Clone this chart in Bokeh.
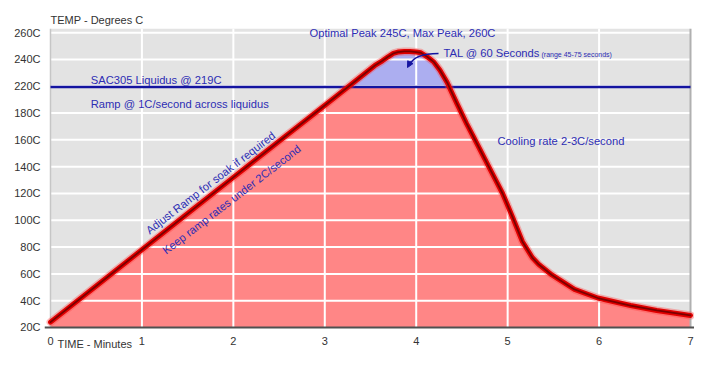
import numpy as np
from bokeh.plotting import figure
from bokeh.models import FixedTicker, Label, Arrow, NormalHead, ColumnDataSource
from bokeh.embed import file_html
from bokeh.resources import INLINE
from bokeh.core.properties import value

# ---------------- data ----------------
time_min = [0.0, 0.5, 1.0, 1.5, 2.0, 2.5, 2.95, 3.25, 3.548, 3.63, 3.692, 3.75, 3.80,
            3.87, 3.93, 4.0, 4.051, 4.12, 4.194, 4.26, 4.337, 4.444, 4.552, 4.624,
            4.803, 4.946, 5.054, 5.161, 5.269, 5.341, 5.484, 5.731, 5.986, 6.344,
            6.631, 7.0]
temp_c = [24, 51, 78, 105, 132, 159, 186, 218.6, 235.5, 239, 242, 244.5, 245.5,
          246, 246, 245.5, 245, 242, 238, 232, 223, 194.4, 172, 162.5,
          138.7, 119.8, 102.3, 84.2, 72.2, 67, 59.2, 48.4, 42, 36.4,
          32.7, 29]
liquidus_c = 219
x_ticks = [0, 1, 2, 3, 4, 5, 6, 7]
y_tick_temps = [20, 40, 60, 80, 100, 120, 140, 160, 180, 220, 240, 260]
y_tick_labels = ["20C", "40C", "60C", "80C", "100C", "120C", "140C", "160C",
                 "180C", "220C", "240C", "260C"]

# The reference axis puts 180C and 220C one grid step apart (no 200C tick)
def ty(t):
    return np.interp(np.asarray(t, dtype=float), [20, 180, 220, 300], [20, 180, 200, 280])

FONT = "Liberation Sans"
BLUE_TXT = "#2d2db4"
PLOT_BG = "#e3e3e3"

t_arr = np.array(time_min)
y_arr = ty(temp_c)
liq = float(ty(liquidus_c))
tick_pos = [int(round(v)) for v in ty(y_tick_temps)]
y_bot, y_top = 20.0, 243.1          # shaded plot area (display units)
y_min = 2.09                        # frame extends below to hold the x labels
x_lo, x_hi = -0.0656, 7.0437        # small frame margin so edge tick labels are not clipped

p = figure(width=694, height=351, output_backend="svg", toolbar_location=None,
           x_range=(x_lo, x_hi), y_range=(y_min, y_top),
           min_border_left=44, min_border_right=0, min_border_top=28, min_border_bottom=0)
p.background_fill_color = "white"
p.border_fill_color = "white"
p.outline_line_color = None
p.xgrid.visible = False
p.ygrid.visible = False

# plot-area background
bg = p.quad(left=[0], right=[7], bottom=[y_bot], top=[y_top], fill_color=PLOT_BG, line_color=None)
bg.level = "image"

# fills
src = ColumnDataSource(dict(t=t_arr, y=y_arr, base=np.full(len(t_arr), y_bot),
                            liq=np.full(len(t_arr), liq),
                            top=np.maximum(y_arr, liq)))
r1 = p.varea(x="t", y1="base", y2="y", source=src, fill_color="#ff8686")
r2 = p.varea(x="t", y1="liq", y2="top", source=src, fill_color="#acaef0")
r1.level = "image"
r2.level = "image"

# white grid lines over the fills
gx = x_ticks[1:-1]
g1 = p.segment(x0=gx, x1=gx, y0=[y_bot] * len(gx), y1=[y_top] * len(gx),
               line_color="white", line_width=2)
gy = tick_pos[1:]
g2 = p.segment(x0=[0] * len(gy), x1=[7] * len(gy), y0=gy, y1=gy,
               line_color="white", line_width=2)
g1.level = "image"
g2.level = "image"

# frame edges
p.segment(x0=[0], x1=[0], y0=[y_bot], y1=[y_top], line_color="#c6c6c6", line_width=1.5)
p.segment(x0=[7], x1=[7], y0=[y_bot], y1=[y_top], line_color="#b0b0b0", line_width=2)

# liquidus line
p.line(x=[0, 7], y=[liq, liq], line_color="#1414a0", line_width=2.5)

# reflow curve with glow
p.line(t_arr, y_arr, line_color="#ff3c3c", line_width=8, line_alpha=0.35, line_join="round", line_cap="round")
p.line(t_arr, y_arr, line_color="#e10000", line_width=5, line_join="round", line_cap="round")
p.line(t_arr, y_arr, line_color="#7a0000", line_width=1.8, line_join="round", line_cap="round")

# axes
p.yaxis.ticker = FixedTicker(ticks=tick_pos)
p.yaxis.major_label_overrides = {pos: lab for pos, lab in zip(tick_pos, y_tick_labels)}
p.yaxis.axis_line_color = None
p.yaxis.major_label_standoff = -2
p.xaxis.ticker = FixedTicker(ticks=x_ticks)
p.xaxis.fixed_location = y_bot
p.xaxis.axis_line_color = "#505050"
p.xaxis.axis_line_width = 2
p.xaxis.major_label_standoff = 4
for ax in (p.xaxis, p.yaxis):
    ax.major_tick_line_color = None
    ax.minor_tick_line_color = None
    ax.major_label_text_font = FONT
    ax.major_label_text_font_size = "11px"
    ax.major_label_text_color = "#333333"

# titles
p.title.text = "TEMP - Degrees C"
p.title.align = "left"
p.title.offset = 6
p.title.text_font = FONT
p.title.text_font_size = "11px"
p.title.text_font_style = "normal"
p.title.text_color = "#333333"
p.title.standoff = 6

p.add_layout(Label(x=0.076, y=7.6, text="TIME - Minutes",
                   text_font=FONT, text_font_size="11px", text_color="#333333",
                   text_baseline="middle"))

# annotations
def txt(x, y, s, size="11.2px", align="left", angle=0.0):
    p.text(x=[x], y=[float(ty(y))], text=[s], text_font=value(FONT), text_font_size=size,
           text_color=BLUE_TXT, text_align=align, text_baseline="middle",
           angle=angle, angle_units="deg")

txt(0.44, 224.3, "SAC305 Liquidus @ 219C")
txt(0.44, 192.8, "Ramp @ 1C/second across liquidus")
txt(2.833, 260.1, "Optimal Peak 245C, Max Peak, 260C")
txt(4.298, 244.5, "TAL @ 60 Seconds")
txt(5.37, 243.7, "(range 45-75 seconds)", size="7px")
txt(4.889, 158.8, "Cooling rate 2-3C/second")
txt(1.75, 128.0, "Adjust Ramp for soak if required", align="center", angle=37.6)
txt(1.98, 115.5, "Keep ramp rates under 2C/second", align="center", angle=37.6)

# curved pointer for TAL
p.bezier(x0=[4.244], y0=[float(ty(244.5))], x1=[3.93], y1=[float(ty(236))],
         cx0=[4.058], cy0=[float(ty(244.5))], cx1=[3.959], cy1=[float(ty(241.5))],
         line_color="#1414a0", line_width=1.5)
p.add_layout(Arrow(x_start=3.94, y_start=float(ty(238.5)), x_end=3.905, y_end=float(ty(234)),
                   line_color="#1414a0", line_width=1.5,
                   end=NormalHead(size=6, fill_color="#1414a0", line_color="#1414a0")))

open("out.html", "w").write(file_html(p, INLINE))
